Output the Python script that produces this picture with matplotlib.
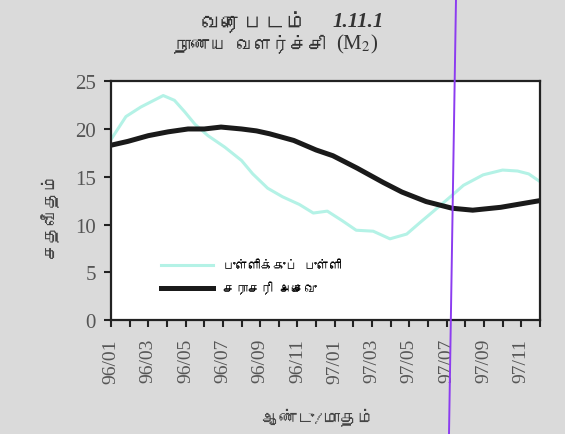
"""Money growth (M2) chart: point-to-point vs moving average, 1996-97."""
import matplotlib
matplotlib.use("Agg")
import matplotlib.pyplot as plt
from matplotlib import font_manager
from matplotlib.ft2font import FT2Font
from matplotlib.lines import Line2D

plt.rcParams["mathtext.fontset"] = "stix"

# month index 0 = 96/01 ... 23 = 97/12
month_labels = ["96/01", "96/03", "96/05", "96/07", "96/09", "96/11",
                "97/01", "97/03", "97/05", "97/07", "97/09", "97/11"]

p2p_month = [0.0, 0.8, 1.6, 2.8, 3.4, 3.95, 4.5, 5.2, 6.1, 7.0, 7.6, 8.4, 9.2,
             10.1, 10.85, 11.6, 12.4, 13.15, 14.06, 14.96, 15.86, 16.57, 17.3,
             18.2, 18.9, 19.96, 21.0, 21.8, 22.4, 23.0]
p2p_value = [18.9, 21.3, 22.3, 23.5, 23.0, 21.8, 20.5, 19.3, 18.1, 16.7, 15.3, 13.8, 12.9,
             12.1, 11.2, 11.4, 10.4, 9.4, 9.3, 8.5, 9.0, 10.2, 11.4,
             12.9, 14.1, 15.2, 15.7, 15.6, 15.3, 14.5]

avg_month = [0.0, 0.9, 2.0, 3.06, 4.13, 5.0, 5.9, 7.0, 7.8, 8.5, 9.8, 11.0, 11.9,
             13.2, 14.6, 15.6, 16.9, 18.3, 19.4, 20.9, 23.0]
avg_value = [18.3, 18.7, 19.3, 19.7, 20.0, 20.0, 20.2, 20.0, 19.8, 19.5, 18.8, 17.8, 17.2,
             15.9, 14.4, 13.4, 12.4, 11.7, 11.5, 11.8, 12.5]

title_word = "வரைபடம்"
title_num = "1.11.1"
subtitle_word = "நாணய வளர்ச்சி"
subtitle_sym = "(M$_2$)"
ylabel = "சதவீதம்"
xlabel = "ஆண்டு/மாதம்"
legend_labels = ["புள்ளிக்குப் புள்ளி", "சராசரி அசைவு"]


def find_tamil_font():
    for entry in font_manager.fontManager.ttflist:
        try:
            if 0x0B95 in FT2Font(entry.fname).get_charmap():
                return entry.name
        except Exception:
            continue
    return None


tamil = find_tamil_font()
tamil_family = ([tamil] if tamil else []) + ["DejaVu Sans"]
serif = ["Liberation Serif", "DejaVu Serif"]
ink = "#333333"

fig = plt.figure(figsize=(5.65, 4.35), dpi=100, facecolor="#dadada")
ax = fig.add_axes([0.1965, 0.262, 0.759, 0.549])
ax.set_facecolor("white")

ax.plot(p2p_month, p2p_value, color="#b4f2e6", lw=2.2, solid_joinstyle="round")
ax.plot(avg_month, avg_value, color="#1a1a1a", lw=3.6, solid_joinstyle="round")

ax.set_xlim(0, 23)
ax.set_ylim(0, 25)
ax.set_yticks(range(0, 26, 5))
ax.set_yticklabels([str(v) for v in range(0, 26, 5)], fontfamily=serif,
                   fontsize=15, color="#555555")
ax.set_xticks(range(0, 24))
ax.set_xticklabels([month_labels[i // 2] if i % 2 == 0 else "" for i in range(24)],
                   rotation=90, fontfamily=serif, fontsize=14, color="#555555")
ax.tick_params(axis="both", direction="out", length=5, width=1.5, color="#222222")
ax.tick_params(axis="x", pad=8)
ax.tick_params(axis="y", pad=6)
for side in ax.spines.values():
    side.set_linewidth(1.6)
    side.set_color("#222222")

handles = [Line2D([], [], color="#b4f2e6", lw=2.2),
           Line2D([], [], color="#1a1a1a", lw=3.6)]
ax.legend(handles, legend_labels, loc="lower left", bbox_to_anchor=(0.09, 0.06),
          frameon=False, handlelength=4.2, handletextpad=0.8, labelspacing=0.9,
          prop={"family": tamil_family, "size": 9})

# title block: Tamil words plus the number / symbol in a serif face
fig.text(308 / 565, 1 - 22 / 435, title_word, ha="right", va="center", fontsize=15.5,
         fontweight="bold", family=tamil_family, color=ink)
fig.text(333 / 565, 1 - 22 / 435, title_num, ha="left", va="center", fontsize=15,
         fontweight="bold", style="italic", family=serif, color=ink)
fig.text(326 / 565, 1 - 44 / 435, subtitle_word, ha="right", va="center", fontsize=13,
         family=tamil_family, color=ink)
fig.text(336 / 565, 1 - 44 / 435, subtitle_sym, ha="left", va="center", fontsize=15,
         family=serif, color=ink)

fig.text(50 / 565, 1 - 215 / 435, ylabel, ha="center", va="center", rotation=90,
         fontsize=12.5, family=tamil_family, color="#444444")
fig.text(318 / 565, 1 - 418 / 435, xlabel, ha="center", va="center", fontsize=12.5,
         family=tamil_family, color="#444444")

# purple marker line across the whole page, as on the scan
fig.add_artist(Line2D([456 / 565, 449 / 565], [1, 0], transform=fig.transFigure,
                      color="#8c3cf0", lw=1.4))

fig.savefig("out.png", dpi=100, facecolor=fig.get_facecolor())
